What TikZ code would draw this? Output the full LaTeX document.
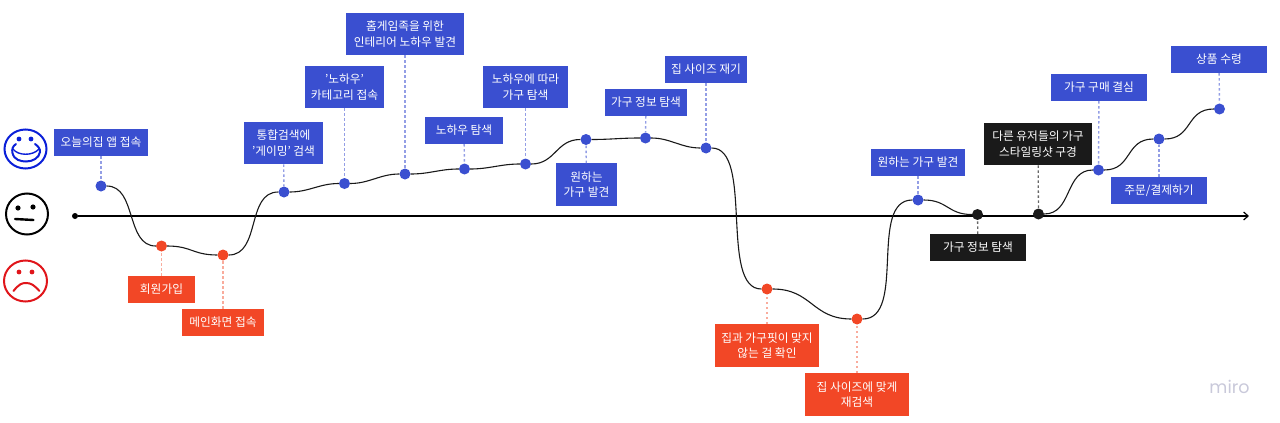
\documentclass[tikz,border=0pt]{standalone}
\usepackage{fontspec}
\setmainfont{Noto Sans CJK KR}
\newfontfamily\logofont{Poppins}
\usetikzlibrary{arrows.meta}
\definecolor{boxblue}{HTML}{3A4FD0}
\definecolor{boxred}{HTML}{F24726}
\definecolor{boxblack}{HTML}{1A1A1A}
\definecolor{faceblue}{HTML}{0A1FD8}
\definecolor{facered}{HTML}{E0151A}
\definecolor{logogrey}{HTML}{C9C9DA}
\tikzset{
  label/.style={anchor=center,text=white,align=center,inner sep=0,minimum height=27pt,
    font=\fontsize{11.7}{15.5}\selectfont},
  twolines/.style={minimum height=42.5pt},
  bluebox/.style={label,fill=boxblue},
  redbox/.style={label,fill=boxred},
  blackbox/.style={label,fill=boxblack},
  bluedot/.style={circle,fill=boxblue,minimum size=11pt,inner sep=0},
  reddot/.style={circle,fill=boxred,minimum size=11pt,inner sep=0},
  blackdot/.style={circle,fill=boxblack,minimum size=11pt,inner sep=0},
  bluestem/.style={dash pattern=on 2.5pt off 2.5pt,line width=1.4pt,color=boxblue!55},
  redstem/.style={dash pattern=on 2.5pt off 2.5pt,line width=1.4pt,color=boxred!45},
  blackstem/.style={dash pattern=on 2.5pt off 2.5pt,line width=1.3pt,color=black!60},
  journey/.style={line width=1.1pt,color=black!90},
  face/.style={line width=2pt,line cap=round}
}
\begin{document}
\begin{tikzpicture}[x=1pt,y=-1pt]
\useasboundingbox (0,0) rectangle (1280,423);
\node [circle,fill=black,minimum size=6pt,inner sep=0] (start) at (75,216) {};
\coordinate (end) at (1249,216);
\draw [-{Straight Barb[length=4.5pt,width=8pt]},line width=1.2pt] (start) -- (end);
\node [bluebox,minimum width=94pt] (appopen) at (101,142.5) {오늘의집 앱 접속};
\node [redbox,minimum width=67pt] (signup) at (161.5,289.5) {회원가입};
\node [redbox,minimum width=82pt] (mainpage) at (223,322.5) {메인화면 접속};
\node [bluebox,twolines,minimum width=79pt] (search) at (283.5,143) {통합검색에\\'게이밍' 검색};
\node [bluebox,twolines,minimum width=79pt] (category) at (344.5,87) {'노하우'\\카테고리 접속};
\node [bluebox,twolines,minimum width=118pt] (interior) at (405,34) {홈게임족을 위한\\인테리어 노하우 발견};
\node [bluebox,minimum width=78pt] (knowhow) at (464,130.5) {노하우 탐색};
\node [bluebox,twolines,minimum width=85pt] (follow) at (525.5,87) {노하우에 따라\\가구 탐색};
\node [bluebox,twolines,minimum width=61pt] (found) at (586.5,184.5) {원하는\\가구 발견};
\node [bluebox,minimum width=82pt] (info) at (646,102.5) {가구 정보 탐색};
\node [bluebox,minimum width=82pt] (measure) at (706,69.5) {집 사이즈 재기};
\node [redbox,twolines,minimum width=104pt] (misfit) at (767,345.5) {집과 가구핏이 맞지\\않는 걸 확인};
\node [redbox,twolines,minimum width=104pt] (research) at (857,394.5) {집 사이즈에 맞게\\재검색};
\node [bluebox,minimum width=94pt] (foundagain) at (918,162.5) {원하는 가구 발견};
\node [blackbox,minimum width=96pt] (infoagain) at (978,247.5) {가구 정보 탐색};
\node [blackbox,twolines,minimum width=108pt] (styling) at (1038,144) {다른 유저들의 가구\\스타일링샷 구경};
\node [bluebox,minimum width=96pt] (decide) at (1099,87.5) {가구 구매 결심};
\node [bluebox,minimum width=96pt] (order) at (1159,190.5) {주문/결제하기};
\node [bluebox,minimum width=96pt] (receive) at (1219,59.5) {상품 수령};
\node [bluedot] (appopendot) at (101,186) {};
\node [reddot] (signupdot) at (161.5,246) {};
\node [reddot] (mainpagedot) at (223,255) {};
\node [bluedot] (searchdot) at (284,192) {};
\node [bluedot] (categorydot) at (344.5,183.5) {};
\node [bluedot] (interiordot) at (405,174) {};
\node [bluedot] (knowhowdot) at (464.5,169) {};
\node [bluedot] (followdot) at (525.5,164) {};
\node [bluedot] (founddot) at (586,139.5) {};
\node [bluedot] (infodot) at (645.5,138) {};
\node [bluedot] (measuredot) at (706,148) {};
\node [reddot] (misfitdot) at (767,289) {};
\node [reddot] (researchdot) at (857,319) {};
\node [bluedot] (foundagaindot) at (918,200) {};
\node [blackdot] (infoagaindot) at (977.5,214.5) {};
\node [blackdot] (stylingdot) at (1038.5,214) {};
\node [bluedot] (decidedot) at (1098.5,170) {};
\node [bluedot] (orderdot) at (1159,139) {};
\node [bluedot] (receivedot) at (1219.5,109) {};
\draw [bluestem] (appopen) -- (appopendot);
\draw [redstem] (signup) -- (signupdot);
\draw [redstem] (mainpage) -- (mainpagedot);
\draw [bluestem] (search) -- (searchdot);
\draw [bluestem] (category) -- (categorydot);
\draw [bluestem] (interior) -- (interiordot);
\draw [bluestem] (knowhow) -- (knowhowdot);
\draw [bluestem] (follow) -- (followdot);
\draw [bluestem] (found) -- (founddot);
\draw [bluestem] (info) -- (infodot);
\draw [bluestem] (measure) -- (measuredot);
\draw [redstem] (misfit) -- (misfitdot);
\draw [redstem] (research) -- (researchdot);
\draw [bluestem] (foundagain) -- (foundagaindot);
\draw [blackstem] (infoagain) -- (infoagaindot);
\draw [blackstem] (styling) -- (stylingdot);
\draw [bluestem] (decide) -- (decidedot);
\draw [bluestem] (order) -- (orderdot);
\draw [bluestem] (receive) -- (receivedot);
\draw [journey] (appopendot) .. controls +(36,0) and +(-36,0) .. (signupdot);
\draw [journey] (signupdot) .. controls +(30,0) and +(-30,0) .. (mainpagedot);
\draw [journey] (mainpagedot) .. controls +(38,0) and +(-38,0) .. (searchdot);
\draw [journey] (searchdot) .. controls +(25,0) and +(-25,0) .. (categorydot);
\draw [journey] (categorydot) .. controls +(25,0) and +(-25,0) .. (interiordot);
\draw [journey] (interiordot) .. controls +(25,0) and +(-25,0) .. (knowhowdot);
\draw [journey] (knowhowdot) .. controls +(25,0) and +(-25,0) .. (followdot);
\draw [journey] (followdot) .. controls +(30,0) and +(-30,0) .. (founddot);
\draw [journey] (founddot) .. controls +(25,0) and +(-25,0) .. (infodot);
\draw [journey] (infodot) .. controls +(25,0) and +(-25,0) .. (measuredot);
\draw [journey] (measuredot) .. controls +(48,0) and +(-48,0) .. (misfitdot);
\draw [journey] (misfitdot) .. controls +(45,0) and +(-45,0) .. (researchdot);
\draw [journey] (researchdot) .. controls +(50,0) and +(-50,0) .. (foundagaindot);
\draw [journey] (foundagaindot) .. controls +(30,0) and +(-30,0) .. (infoagaindot);
\draw [journey] (stylingdot) .. controls +(34,0) and +(-34,0) .. (decidedot);
\draw [journey] (decidedot) .. controls +(34,0) and +(-34,0) .. (orderdot);
\draw [journey] (orderdot) .. controls +(34,0) and +(-34,0) .. (receivedot);
% happy face
\draw [face,faceblue] (25.5,149) ellipse [x radius=21,y radius=19.5];
\fill [faceblue] (19,139) circle [radius=2.4] (31,139) circle [radius=2.4];
\draw [face,faceblue] (16,144) .. controls (13,146) and (11.5,149) .. (12.5,153)
  .. controls (14,160) and (21,161.5) .. (26,161.5)
  .. controls (33,161.5) and (39,158) .. (40,152) .. controls (40.5,149) and (38,146) .. (35,144);
\draw [face,faceblue,line width=1.4pt] (13,149) .. controls (18,156) and (33,156) .. (39,149);
% neutral face
\draw [face] (27,214) ellipse [x radius=21,y radius=20.5];
\fill (18,208) circle [radius=2.6] (33,207) circle [radius=2.6];
\draw [face,line width=2.4pt] (15,219) -- (33.5,220);
% sad face
\draw [face,facered] (25.5,281) ellipse [x radius=21.5,y radius=20.5];
\fill [facered] (19,272) circle [radius=2.4] (32,272) circle [radius=2.4];
\draw [face,facered] (13.5,291) .. controls (19,284) and (22,283) .. (26,283) .. controls (31,283) and (34,285) .. (39.5,291);
\node [text=logogrey,font=\logofont\fontsize{17.5}{17.5}\selectfont] (logo) at (1229.5,387) {miro};
\end{tikzpicture}
\end{document}
